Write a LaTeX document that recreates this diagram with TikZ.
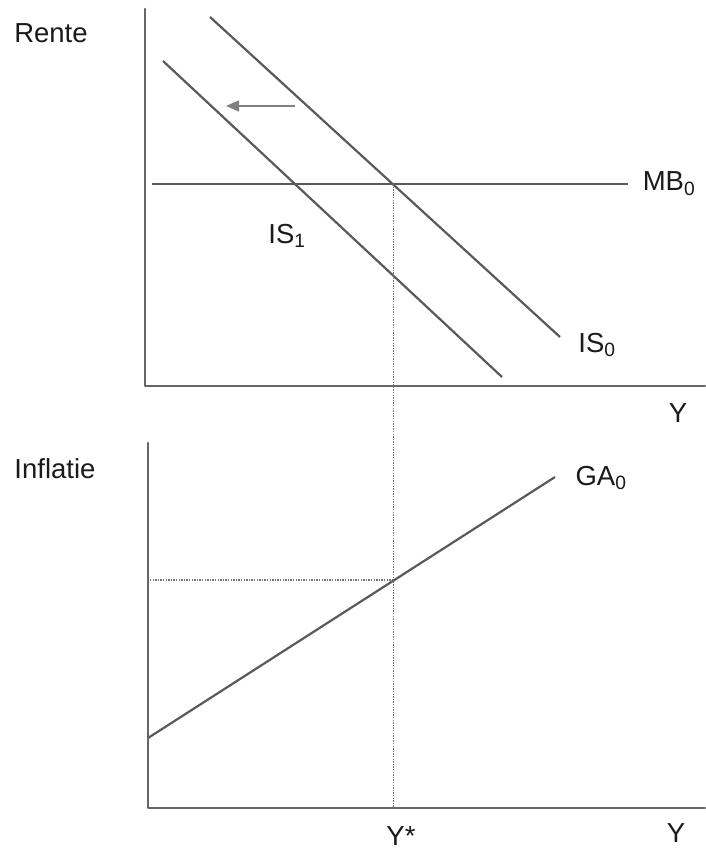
\documentclass[tikz,border=0pt]{standalone}
\usepackage{fontspec}
\setmainfont{Liberation Sans}
\usetikzlibrary{arrows.meta}
\definecolor{linegray}{HTML}{5A5A5A}
\definecolor{axisgray}{HTML}{666666}
\definecolor{txt}{HTML}{1A1A1A}
\begin{document}
\begin{tikzpicture}[x=1pt,y=-1pt,
  axisline/.style={draw=axisgray,line width=2.6pt,line cap=round,line join=round},
  curve/.style={draw=linegray,line width=2.2pt},
  guide/.style={draw=linegray!85,line width=1.5pt,dash pattern=on 1.4pt off 1.2pt},
  lbl/.style={text=txt,inner sep=0pt,font=\fontsize{27.5}{32}\selectfont},
  shiftarrow/.style={draw=gray,line width=1.5pt,-{Triangle[length=13pt,width=11pt]}}]
\useasboundingbox[fill=white] (0,0) rectangle (705,853);
% top panel
\coordinate (ttop) at (145,9);
\coordinate (torig) at (145,386);
\coordinate (tright) at (705,386);
\draw[axisline] (ttop) -- (torig) -- (tright);
\coordinate (is0a) at (210,17);
\coordinate (is0b) at (560,337);
\coordinate (is1a) at (163,61);
\coordinate (is1b) at (502,377);
\coordinate (mba) at (152,184);
\coordinate (mbb) at (628,184);
\draw[curve] (is0a) -- (is0b);
\draw[curve] (is1a) -- (is1b);
\draw[curve] (mba) -- (mbb);
\coordinate (arrs) at (295,106);
\coordinate (arre) at (226,106);
\draw[shiftarrow] (arrs) -- (arre);
\node[lbl] (rente) at (51,33) {Rente};
\node[lbl] (mblbl) at (669,184) {MB\textsubscript{0}};
\node[lbl] (is0lbl) at (597,345) {IS\textsubscript{0}};
\node[lbl] (is1lbl) at (287,236) {IS\textsubscript{1}};
\node[lbl] (ytop) at (678,413) {Y};
% bottom panel
\coordinate (btop) at (148,443);
\coordinate (borig) at (148,808);
\coordinate (bright) at (705,808);
\coordinate (gaa) at (148,738);
\coordinate (gab) at (555,477);
\coordinate (eqtop) at (393.5,184);
\coordinate (eqbot) at (393.5,808);
\coordinate (pil) at (150,580);
\coordinate (pir) at (393.5,580);
\draw[guide] (eqtop) -- (eqbot);
\draw[guide] (pil) -- (pir);
\draw[axisline] (btop) -- (borig) -- (bright);
\draw[curve] (gaa) -- (gab);
\node[lbl] (infl) at (55,469) {Inflatie};
\node[lbl] (galbl) at (601,478) {GA\textsubscript{0}};
\node[lbl] (ystar) at (401,836) {Y*};
\node[lbl] (ybot) at (676,833) {Y};
\end{tikzpicture}
\end{document}
